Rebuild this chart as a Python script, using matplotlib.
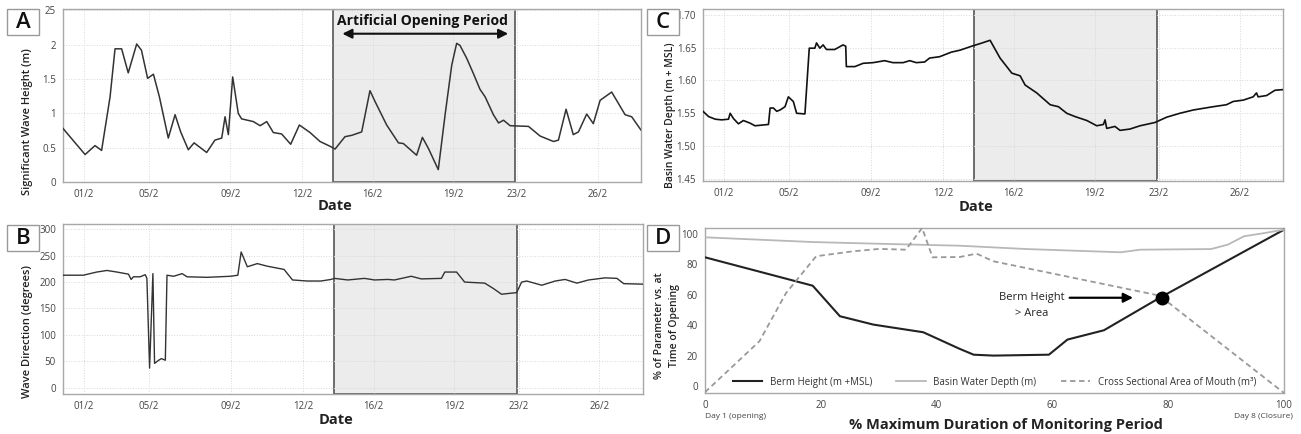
import matplotlib
matplotlib.use("Agg")
import matplotlib.pyplot as plt
from matplotlib.patches import Rectangle

plt.rcParams['font.family'] = ['Open Sans', 'DejaVu Sans']

# --- datos ---
# A: altura significativa de ola (dias desde 31/1)
hs_dia = [0, 1.07, 1.55, 1.87, 2.28, 2.52, 2.84, 3.16, 3.57, 3.80, 4.10, 4.38, 4.67, 5.10, 5.43,
          5.70, 6.07, 6.35, 6.96, 7.36, 7.69, 7.85, 8.01, 8.22, 8.49, 8.65, 9.22, 9.55, 9.87, 10.19,
          10.59, 11.03, 11.45, 11.97, 12.45, 12.94, 13.18, 13.66, 13.99, 14.47, 14.87, 15.12, 15.68,
          16.25, 16.49, 17.13, 17.41, 17.70, 18.18, 18.51, 18.83, 19.07, 19.23, 19.56, 19.88, 20.2,
          20.45, 20.85, 21.1, 21.34, 21.66, 22.55, 23.11, 23.76, 24.0, 24.37, 24.72, 24.97, 25.37,
          25.69, 26.02, 26.58, 27.23, 27.55, 27.99]
hs = [0.78, 0.40, 0.53, 0.46, 1.24, 1.94, 1.94, 1.59, 2.01, 1.92, 1.51, 1.57, 1.24, 0.64, 0.98,
      0.73, 0.47, 0.57, 0.43, 0.61, 0.64, 0.95, 0.69, 1.53, 1.0, 0.92, 0.88, 0.82, 0.88, 0.72,
      0.70, 0.55, 0.83, 0.72, 0.59, 0.52, 0.48, 0.66, 0.68, 0.73, 1.33, 1.17, 0.83, 0.57, 0.56,
      0.39, 0.65, 0.49, 0.18, 0.98, 1.70, 2.02, 1.99, 1.80, 1.58, 1.35, 1.24, 0.98, 0.86, 0.90,
      0.82, 0.81, 0.67, 0.59, 0.61, 1.06, 0.69, 0.73, 0.99, 0.85, 1.19, 1.31, 0.98, 0.95, 0.76]

# B: direccion del oleaje
dir_dia = [0, 0.98, 1.63, 2.12, 2.60, 3.16, 3.29, 3.40, 3.73, 3.97, 4.05, 4.18, 4.34, 4.42, 4.62,
           4.75, 4.94, 5.02, 5.34, 5.59, 5.75, 5.99, 6.96, 8.09, 8.44, 8.60, 8.90, 9.38, 9.87, 10.67,
           11.08, 11.80, 12.45, 12.94, 13.10, 13.75, 14.55, 15.04, 15.68, 16.0, 16.81, 17.30, 18.27,
           18.43, 19.0, 19.39, 20.36, 20.77, 21.17, 21.90, 22.14, 22.39, 23.11, 23.76, 24.24, 24.81,
           25.37, 26.18, 26.74, 27.07, 28.0]
direccion = [213, 213, 219, 222, 219, 215, 205, 210, 210, 214, 207, 37, 216, 46, 52,
             55, 52, 213, 211, 214, 216, 210, 209, 211, 213, 257, 229, 235, 230, 224,
             204, 202, 202, 205, 207, 204, 207, 204, 205, 204, 211, 206, 207,
             219, 219, 200, 198, 188, 177, 180, 200, 202, 194, 202, 205, 198,
             204, 208, 207, 197, 196]

# C: profundidad de la cuenca
prof_dia = [0, 0.27, 0.59, 0.9, 1.23, 1.31, 1.47, 1.71, 1.95, 2.27, 2.51, 3.16, 3.24, 3.40, 3.56,
            3.72, 3.96, 4.12, 4.36, 4.52, 4.92, 5.13, 5.40, 5.48, 5.64, 5.80, 5.96, 6.36, 6.76, 6.89,
            6.92, 7.33, 7.73, 8.21, 8.77, 9.17, 9.66, 9.98, 10.30, 10.70, 10.94, 11.42, 11.99, 12.41,
            12.97, 13.38, 13.86, 14.34, 14.91, 15.31, 15.55, 16.11, 16.76, 17.16, 17.56, 17.96, 18.53,
            19.01, 19.33, 19.41, 19.49, 19.89, 20.13, 20.61, 21.1, 21.82, 22.38, 23.02, 23.67, 24.63,
            25.27, 25.6, 26.08, 26.56, 26.72, 26.8, 27.21, 27.61, 28.0]
profundidad = [1.553, 1.545, 1.541, 1.540, 1.541, 1.550, 1.542, 1.534, 1.539, 1.535, 1.531, 1.533,
               1.558, 1.558, 1.553, 1.555, 1.560, 1.575, 1.568, 1.550, 1.549, 1.649, 1.649, 1.657,
               1.649, 1.654, 1.647, 1.647, 1.654, 1.652, 1.621, 1.621, 1.626, 1.627, 1.630, 1.627,
               1.627, 1.630, 1.627, 1.628, 1.634, 1.636, 1.643, 1.646, 1.652, 1.656, 1.661, 1.634,
               1.611, 1.607, 1.593, 1.581, 1.563, 1.560, 1.550, 1.545, 1.539, 1.531, 1.533, 1.540,
               1.527, 1.530, 1.524, 1.526, 1.531, 1.536, 1.544, 1.550, 1.555, 1.560, 1.563, 1.568,
               1.570, 1.575, 1.581, 1.575, 1.577, 1.585, 1.586]

fechas = ['01/2', '05/2', '09/2', '12/2', '16/2', '19/2', '23/2', '26/2']
fechas_pos = [1.0, 4.15, 8.1, 11.6, 15.0, 18.9, 22.0, 25.9]
apertura = (13.1, 21.9)

# D: porcentaje respecto a la apertura
berma_x = [0, 18.6, 23.3, 29.1, 37.7, 44.0, 46.4, 49.8, 59.4, 62.6, 68.9, 78.5, 100]
berma_y = [84.5, 65.9, 45.9, 40.4, 35.4, 24.5, 20.7, 20.1, 20.7, 30.6, 36.7, 57.9, 102.6]
cuenca_x = [0, 18.6, 31.9, 44.0, 55.6, 67.1, 71.8, 75.2, 87.4, 90.3, 93.1, 96.0, 100]
cuenca_y = [97.6, 94.5, 93.2, 92.1, 89.9, 88.4, 87.8, 89.5, 89.9, 92.8, 98.3, 100, 102.6]
area_x = [0, 9.4, 14.0, 19.2, 25.5, 30.1, 34.7, 37.5, 39.3, 44.0, 46.9, 49.8, 78.5, 100]
area_y = [-3.9, 29.5, 61.1, 85.2, 88.4, 90.0, 89.5, 103.7, 84.5, 84.7, 86.9, 81.9, 59.4, -4.4]
cruce = (79, 58)

W, H = 1301, 434
fig = plt.figure(figsize=(W / 100, H / 100), dpi=100)


def ejes(izq, der, arriba, abajo):
    return fig.add_axes([izq / W, (H - abajo) / H, (der - izq) / W, (abajo - arriba) / H])


def estilo(ax):
    for s in ax.spines.values():
        s.set_color('#a8a8a8')
        s.set_linewidth(1.0)
    ax.tick_params(labelsize=7, colors='#444444', length=0, pad=5)
    ax.grid(True, ls=':', color='#d8d8d8', lw=0.7)
    ax.set_axisbelow(True)


def eje_fechas(ax, yl):
    ax.set_xlim(0, 28)
    ax.set_xticks(fechas_pos)
    ax.set_xticklabels(fechas)
    ax.add_patch(Rectangle((apertura[0], ax.get_ylim()[0]), apertura[1] - apertura[0],
                           ax.get_ylim()[1] - ax.get_ylim()[0], facecolor='#ececec',
                           edgecolor='#555555', lw=1.2, zorder=0.5))
    ax.set_xlabel('Date', fontsize=10.5, fontweight='bold', color='#222222')
    ax.xaxis.set_label_coords(0.47, yl)


def letra(txt, x, y):
    fig.patches.append(Rectangle((x / W, (H - y - 26) / H), 32 / W, 26 / H, transform=fig.transFigure,
                                 facecolor='white', edgecolor='#999999', lw=1.0))
    fig.text((x + 16) / W, (H - y - 13) / H, txt, ha='center', va='center', fontsize=16,
             fontweight='semibold', color='#111111')


# Panel A
axA = ejes(63, 641, 9, 182)
axA.set_ylim(0, 2.52)
axA.plot(hs_dia, hs, color='#333333', lw=1.1, zorder=3)
axA.set_yticks([0, 0.5, 1, 1.5, 2, 2.5])
axA.set_yticklabels(['0', '0.5', '1', '1.5', '2', '25'])
estilo(axA)
eje_fechas(axA, -0.10)
axA.set_ylabel('Significant Wave Height (m)', fontsize=8, fontweight='semibold', color='#222222')
axA.yaxis.set_label_coords(-0.052, 0.35)
axA.text(17.4, 2.34, 'Artificial Opening Period', ha='center', va='center', fontsize=10,
         fontweight='bold', color='#111111', zorder=4)
axA.annotate('', xy=(13.4, 2.16), xytext=(21.7, 2.16),
             arrowprops=dict(arrowstyle='<|-|>', color='#111111', lw=1.5, mutation_scale=14), zorder=4)

# Panel B
axB = ejes(63, 643, 224, 394)
axB.set_ylim(-12, 310)
axB.plot(dir_dia, direccion, color='#333333', lw=1.0, zorder=3)
axB.set_yticks(range(0, 301, 50))
estilo(axB)
eje_fechas(axB, -0.11)
axB.set_ylabel('Wave Direction (degrees)', fontsize=8, fontweight='semibold', color='#222222')
axB.yaxis.set_label_coords(-0.052, 0.37)

# Panel C
axC = ejes(703, 1283, 9, 181)
axC.set_ylim(1.447, 1.7086)
axC.plot(prof_dia, profundidad, color='#111111', lw=1.2, zorder=3)
axC.set_yticks([1.45, 1.50, 1.55, 1.60, 1.65, 1.70])
axC.set_yticklabels(['1.45', '1.50', '1.55', '1.60', '1.65', '1.70'])
estilo(axC)
eje_fechas(axC, -0.11)
axC.set_ylabel('Basin Water Depth (m + MSL)', fontsize=7.5, fontweight='semibold', color='#222222')
axC.yaxis.set_label_coords(-0.047, 0.38)

# Panel D
axD = ejes(705, 1284, 228, 393)
axD.set_xlim(0, 100)
axD.set_ylim(-4.4, 103.7)
axD.plot(berma_x, berma_y, color='#222222', lw=1.5, label='Berm Height (m +MSL)', zorder=3)
axD.plot(cuenca_x, cuenca_y, color='#b8b8b8', lw=1.3, label='Basin Water Depth (m)', zorder=3)
axD.plot(area_x, area_y, color='#999999', lw=1.3, ls=(0, (3, 2)),
         label='Cross Sectional Area of Mouth (m\u00b3)', zorder=3)
axD.plot(*cruce, 'o', color='black', ms=9, zorder=4)
axD.text(56.5, 58, 'Berm Height', ha='center', va='center', fontsize=8, color='#222222')
axD.text(56.5, 48, '> Area', ha='center', va='center', fontsize=8, color='#222222')
axD.annotate('', xy=(74.4, 58), xytext=(62.5, 58),
             arrowprops=dict(arrowstyle='-|>', color='black', lw=1.6, mutation_scale=14))
axD.set_xticks(range(0, 101, 20))
axD.set_yticks(range(0, 101, 20))
estilo(axD)
axD.grid(False)
axD.legend(loc='lower center', bbox_to_anchor=(0.5, -0.02), ncol=3, frameon=False, fontsize=7,
           handlelength=3, columnspacing=2.5, labelcolor='#333333')
axD.text(0, -0.145, 'Day 1 (opening)', transform=axD.transAxes, ha='left', va='center', fontsize=6,
         color='#444444')
axD.text(1.015, -0.145, 'Day 8 (Closure)', transform=axD.transAxes, ha='right', va='center',
         fontsize=6, color='#444444')
axD.set_xlabel('% Maximum Duration of Monitoring Period', fontsize=10.5, fontweight='bold',
               color='#222222')
axD.xaxis.set_label_coords(0.52, -0.15)
axD.set_ylabel('% of Parameter vs. at\nTime of Opening', fontsize=7.5, fontweight='semibold',
               color='#222222', linespacing=1.5)
axD.yaxis.set_label_coords(-0.043, 0.41)

letra('A', 7, 9)
letra('B', 7, 225)
letra('C', 647, 9)
letra('D', 647, 225)

fig.savefig('out.png', dpi=100)
